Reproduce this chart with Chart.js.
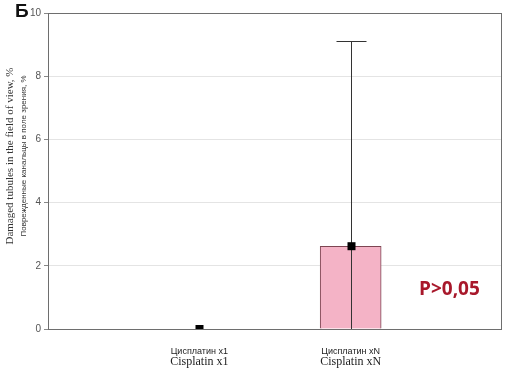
<!DOCTYPE html>
<html lang="ru">
<head>
  <meta charset="UTF-8" />
  <title>Cisplatin — damaged tubules</title>
  <style>
    html, body { margin: 0; padding: 0; background: #fff; }
    #wrap { width: 507px; height: 372px; position: relative; }
  </style>
  <script src="https://cdn.jsdelivr.net/npm/chart.js"></script>
</head>
<body>
  <div id="wrap"><canvas id="chart" width="507" height="372"></canvas></div>

  <script>
    // axis slots 0..3, the two groups sit on 1 and 2
    const labelsRu = ['', 'Цисплатин x1', 'Цисплатин xN', ''];
    const labelsEn = ['', 'Cisplatin x1', 'Cisplatin xN', ''];
    const means = [null, 0, 2.62, null];
    const upper = [null, 0, 9.1, null];
    const lower = [null, 0, 0, null];
    const yTicks = [0, 2, 4, 6, 8, 10];

    const titleEn = 'Damaged tubules in the field of view, %';
    const titleRu = 'Поврежденные канальцы в поле зрения, %';

    const extras = {
      id: 'extras',
      afterDatasetsDraw(chart) {
        const { ctx, chartArea: a, scales: { x, y } } = chart;
        ctx.save();
        // frame
        ctx.strokeStyle = '#6e6e6e';
        ctx.lineWidth = 1;
        ctx.strokeRect(a.left + 0.5, a.top + 0.5, a.right - a.left - 1, a.bottom - a.top);

        ctx.beginPath();
        ctx.rect(a.left, a.top, a.right - a.left, a.bottom - a.top);
        ctx.clip();
        means.forEach((m, i) => {
          if (m === null) return;
          const cx = Math.round(x.getPixelForValue(i)) + 0.5;
          const yHi = y.getPixelForValue(upper[i]);
          const yLo = y.getPixelForValue(lower[i]);
          ctx.strokeStyle = '#333';
          ctx.lineWidth = 1;
          if (upper[i] !== lower[i]) {
            ctx.beginPath();
            ctx.moveTo(cx, yLo);
            ctx.lineTo(cx, yHi);
            ctx.moveTo(cx - 15, Math.round(yHi) + 0.5);
            ctx.lineTo(cx + 15, Math.round(yHi) + 0.5);
            ctx.stroke();
          }
          const ym = y.getPixelForValue(m);
          ctx.fillStyle = '#000';
          ctx.fillRect(cx - 4, ym - 4, 8, 8);
        });
        ctx.restore();

        ctx.save();
        // english category line under the russian ticks
        ctx.fillStyle = '#222';
        ctx.font = '12px "Liberation Serif", "DejaVu Serif", serif';
        ctx.textAlign = 'center';
        ctx.textBaseline = 'middle';
        labelsEn.forEach((t, i) => {
          if (t) ctx.fillText(t, x.getPixelForValue(i), 362);
        });

        // y titles
        const midY = 156;
        ctx.translate(10, midY);
        ctx.rotate(-Math.PI / 2);
        ctx.font = '11px "Liberation Serif", "DejaVu Serif", serif';
        ctx.fillStyle = '#333';
        ctx.fillText(titleEn, 0, 0);
        ctx.font = '8px "Liberation Sans", Arial, sans-serif';
        ctx.fillText(titleRu, 0, 14);
        ctx.restore();

        ctx.save();
        ctx.font = 'bold 19px "Liberation Sans", Arial, sans-serif';
        ctx.fillStyle = '#111';
        ctx.textBaseline = 'middle';
        ctx.fillText('Б', 15, 12);

        ctx.font = 'bold 19px "Open Sans", "Liberation Sans", sans-serif';
        ctx.fillStyle = '#a8182b';
        ctx.fillText('P>0,05', 419, 290);
        ctx.restore();
      }
    };

    new Chart(document.getElementById('chart'), {
      type: 'bar',
      data: {
        labels: labelsRu,
        datasets: [{
          data: means,
          backgroundColor: '#f4b3c6',
          borderColor: '#7d4552',
          borderWidth: 1,
          barThickness: 61,
        }],
      },
      options: {
        responsive: false,
        animation: false,
        layout: { padding: { top: 13, right: 5, bottom: 0, left: 0 } },
        plugins: { legend: { display: false }, tooltip: { enabled: false } },
        scales: {
          x: {
            offset: false,
            grid: { display: false },
            border: { display: false },
            ticks: {
              autoSkip: false,
              maxRotation: 0,
              color: '#222',
              font: { size: 9, family: '"Liberation Sans", Arial, sans-serif' },
              padding: 9,
            },
            afterFit(s) { s.height = 43; s.paddingLeft = 0; s.paddingRight = 0; },
          },
          y: {
            min: 0,
            max: 10,
            afterBuildTicks(s) { s.ticks = yTicks.map(v => ({ value: v })); },
            grid: { color: '#e4e4e4', tickLength: 4, tickColor: '#888' },
            border: { display: false },
            ticks: {
              color: '#555',
              font: { size: 10, family: '"Liberation Sans", Arial, sans-serif' },
              padding: 3,
            },
            afterFit(s) { s.width = 48; },
          },
        },
      },
      plugins: [extras],
    });
  </script>
</body>
</html>
